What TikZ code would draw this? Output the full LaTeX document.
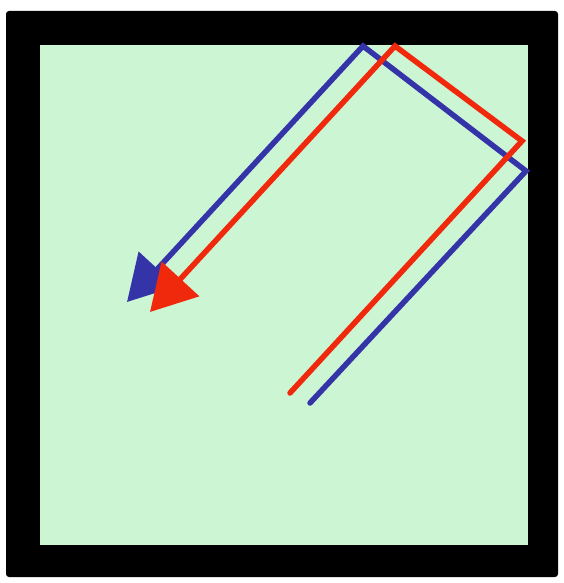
\documentclass[tikz,border=0pt]{standalone}
\usetikzlibrary{arrows.meta}
\definecolor{fieldgreen}{RGB}{204,245,212}
\definecolor{rayblue}{RGB}{52,52,168}
\definecolor{rayred}{RGB}{240,40,12}
\tikzset{
  ray/.style={line width=5.5pt, line join=miter, line cap=round, -{Triangle[length=45pt,width=50pt]}},
}
\begin{document}
\begin{tikzpicture}[x=1pt,y=-1pt]
\useasboundingbox (0,0) rectangle (564,583);
\fill[white] (0,0) rectangle (564,583);
\fill[black, rounded corners=3pt] (6,11) rectangle (558,577);
\fill[fieldgreen] (40,45) rectangle (528,545);
% blue ray
\coordinate (b0) at (310,403);
\coordinate (b1) at (526,171);
\coordinate (b2) at (363,46);
\coordinate (b3) at (127,302);
% red ray
\coordinate (r0) at (290,393);
\coordinate (r1) at (522,141);
\coordinate (r2) at (395,46);
\coordinate (r3) at (150,312);
\draw[ray, rayblue] (b0) -- (b1) -- (b2) -- (b3);
\draw[ray, rayred] (r0) -- (r1) -- (r2) -- (r3);
\end{tikzpicture}
\end{document}
